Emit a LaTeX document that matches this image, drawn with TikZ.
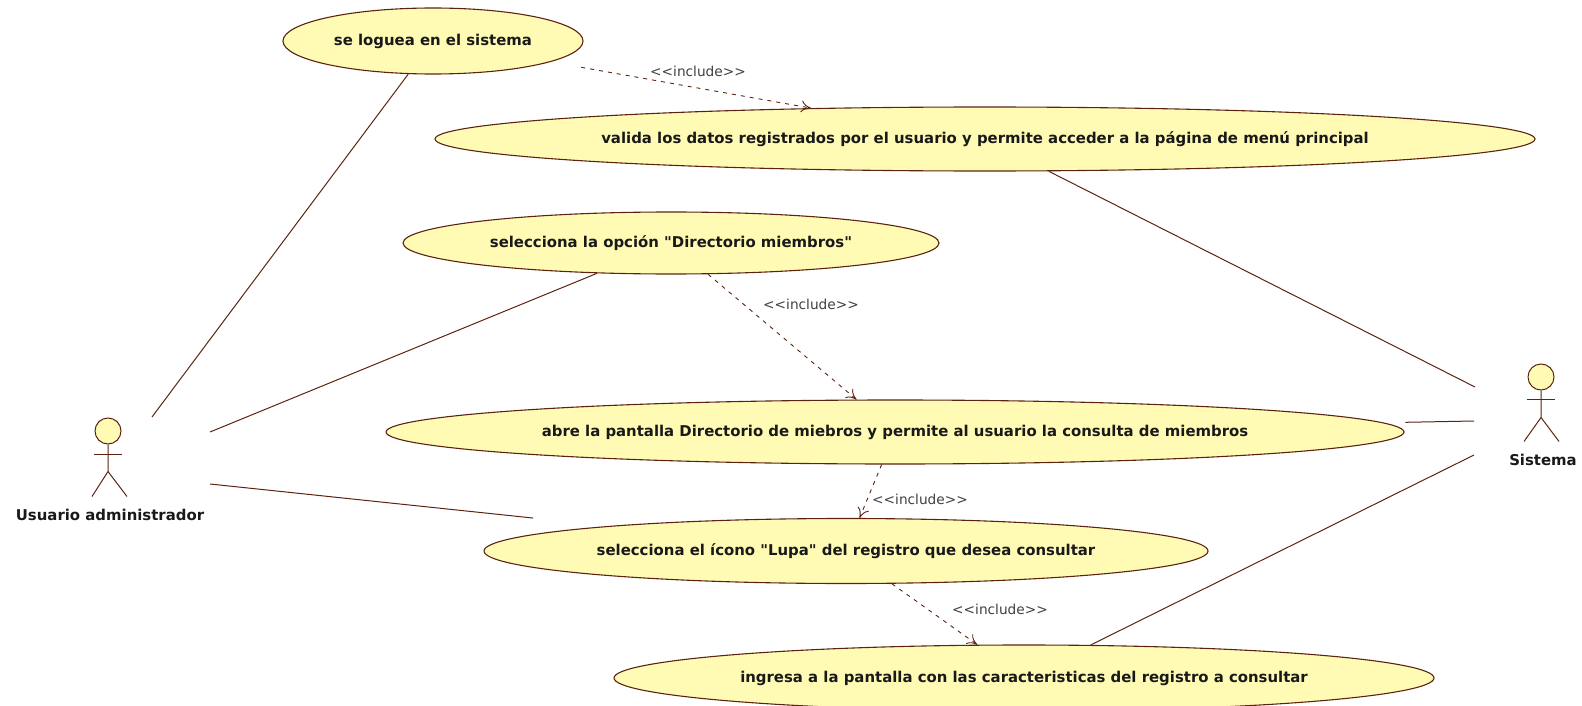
\documentclass[tikz,border=0pt]{standalone}
\usepackage{fontspec}
\setsansfont[Ligatures=TeXOff]{DejaVu Sans}
\tikzset{every picture/.style={/utils/exec={\sffamily}}}
\usetikzlibrary{positioning}
\usetikzlibrary{shapes.geometric}
\usetikzlibrary{arrows.meta}
\definecolor{ucfill}{HTML}{FFFBB4}
\definecolor{ucline}{HTML}{5C2410}
\tikzset{
  usecase/.style={ellipse, draw=ucline, fill=ucfill, line width=1.1pt, inner sep=0pt, font=\fontsize{14.9}{16}\selectfont\bfseries, text=black!90},
  head/.style={circle, draw=ucline, fill=ucfill, line width=1pt, inner sep=0pt, minimum size=26pt},
  actorname/.style={font=\fontsize{14.9}{16}\selectfont\bfseries, text=black!90, inner sep=0pt},
  assoc/.style={draw=ucline, line width=1pt},
  incl/.style={draw=ucline, line width=0.9pt, dash pattern=on 4pt off 5pt, -{To[length=10pt,width=12pt]}},
  stereo/.style={font=\fontsize{13.7}{15}\selectfont, text=black!75, inner sep=0pt}
}

\begin{document}
\begin{tikzpicture}[x=1pt, y=-1pt]
  \useasboundingbox (0,0) rectangle (1582,706);

  \node [usecase, minimum width=300pt, minimum height=66pt] (loguea) at (433,41) {se loguea en el sistema};
  \node [usecase, minimum width=1100pt, minimum height=64pt] (valida) at (985,139) {valida los datos registrados por el usuario y permite acceder a la página de menú principal};
  \node [usecase, minimum width=536pt, minimum height=62pt] (opcion) at (671,243) {selecciona la opción "Directorio miembros"};
  \node [usecase, minimum width=1018pt, minimum height=64pt] (abre) at (895,432) {abre la pantalla Directorio de miebros y permite al usuario la consulta de miembros};
  \node [usecase, minimum width=724pt, minimum height=65pt] (lupa) at (846,551) {selecciona el ícono "Lupa" del registro que desea consultar};
  \node [usecase, minimum width=820pt, minimum height=66pt] (ingresa) at (1024,678) {ingresa a la pantalla con las caracteristicas del registro a consultar};

  % actors
  \node [head] (admin) at (108,431) {};
  \draw [assoc] (admin.south) -- ++(0,27) coordinate (adminhip) -- ++(-16,25);
  \draw [assoc] (adminhip) -- ++(19,25);
  \draw [assoc] (admin.south) ++(-14,10) -- ++(28,0);
  \node [actorname] (adminname) at (110,515) {Usuario administrador};

  \node [head] (sistema) at (1541,377) {};
  \draw [assoc] (sistema.south) -- ++(0,27) coordinate (sistemahip) -- ++(-17,24);
  \draw [assoc] (sistemahip) -- ++(18,24);
  \draw [assoc] (sistema.south) ++(-14,9) -- ++(28,0);
  \node [actorname] (sistemaname) at (1543,460) {Sistema};

  % free ends next to the actors
  \coordinate (adminA) at (152,417);
  \coordinate (adminB) at (210,432);
  \coordinate (adminC) at (210,484);
  \coordinate (sistemaA) at (1475,387);
  \coordinate (sistemaB) at (1474,421);
  \coordinate (sistemaC) at (1474,455);

  \draw [assoc] (loguea) -- (adminA);
  \draw [assoc] (opcion) -- (adminB);
  \draw [assoc, shorten <=76pt] (lupa) -- (adminC);
  \draw [assoc] (valida) -- (sistemaA);
  \draw [assoc, shorten <=22pt] (abre) -- (sistemaB);
  \draw [assoc] (ingresa) -- (sistemaC);

  \draw [incl, shorten <=31pt] (loguea) -- (valida);
  \draw [incl] (opcion) -- (abre);
  \draw [incl] (abre) -- (lupa);
  \draw [incl] (lupa) -- (ingresa);

  \node [stereo] (inclA) at (698,71) {<<include>>};
  \node [stereo] (inclB) at (811,304) {<<include>>};
  \node [stereo] (inclC) at (920,499) {<<include>>};
  \node [stereo] (inclD) at (1000,609) {<<include>>};
\end{tikzpicture}
\end{document}
